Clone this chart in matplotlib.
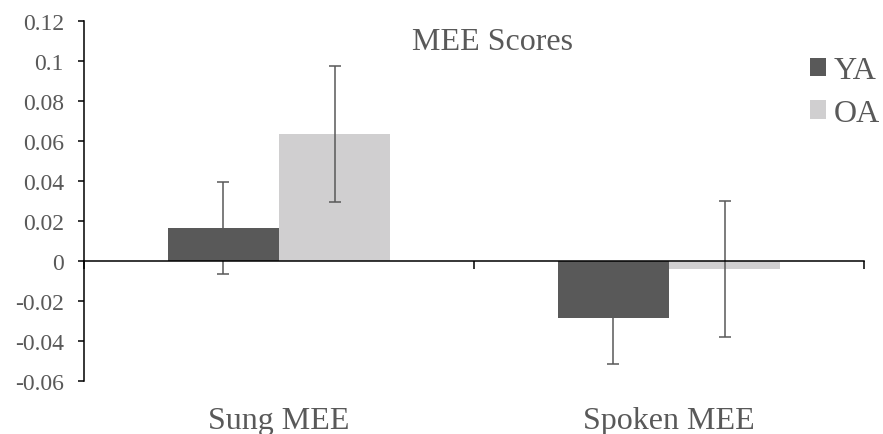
import matplotlib
matplotlib.use("Agg")
import matplotlib.pyplot as plt
import numpy as np
from matplotlib.ticker import FuncFormatter, FixedLocator

plt.rcParams['font.family'] = ['Liberation Serif', 'DejaVu Serif']
plt.rcParams['axes.unicode_minus'] = False

categories = ["Sung MEE", "Spoken MEE"]
series_names = ["YA", "OA"]
ya_values = [0.0167, -0.0286]
oa_values = [0.0637, -0.0042]
ya_err = [0.023, 0.023]
oa_err = [0.034, 0.034]
title = "MEE Scores"

TXT = "#595959"
YA_COL = "#595959"
OA_COL = "#d0cfd0"
ERR_COL = "#595959"

W, H = 883, 435
fig = plt.figure(figsize=(W / 100, H / 100), dpi=100)
ax = fig.add_axes([84 / W, 1 - 382 / H, (864 - 84) / W, (382 - 22) / H])

x = np.arange(len(categories))
bw = 0.285
err_kw = dict(ecolor=ERR_COL, elinewidth=1.1, capsize=4.3, capthick=1.1)
ax.bar(x - bw / 2, ya_values, bw, color=YA_COL, yerr=ya_err, error_kw=err_kw,
       label=series_names[0], zorder=2)
ax.bar(x + bw / 2, oa_values, bw, color=OA_COL, yerr=oa_err, error_kw=err_kw,
       label=series_names[1], zorder=2)

ax.set_xlim(-0.5, len(categories) - 0.5)
ax.set_ylim(-0.06, 0.12)
ax.yaxis.set_major_locator(FixedLocator(np.round(np.arange(-0.06, 0.1201, 0.02), 2)))
ax.yaxis.set_major_formatter(FuncFormatter(lambda v, p: "%g" % round(v, 2)))

for s in ["top", "right", "bottom"]:
    ax.spines[s].set_visible(False)
ax.spines["left"].set_linewidth(1.1)
ax.spines["left"].set_color("black")
ax.tick_params(axis="y", direction="out", length=4.5, width=1.1, color="black",
               labelsize=17, labelcolor=TXT, pad=10)

# category labels
ax.set_xticks(x)
ax.set_xticklabels(categories)
ax.tick_params(axis="x", length=0, labelsize=23, labelcolor=TXT, pad=18)

# zero line with category boundary ticks
sec = ax.secondary_xaxis(0.06 / 0.18)
sec.spines["bottom"].set_linewidth(1.1)
sec.spines["bottom"].set_color("black")
sec.set_xticks(np.arange(-0.5, len(categories), 1.0))
sec.set_xticklabels([])
sec.tick_params(axis="x", direction="out", length=5.5, width=1.1, color="black")
sec.set_zorder(3)

fig.text(493 / W, 1 - 43 / H, title, ha="center", va="center", fontsize=23, color=TXT)

leg = fig.legend(loc="upper left", bbox_to_anchor=(810 / W, 1 - 57 / H),
                 frameon=False, fontsize=23, labelcolor=TXT,
                 handlelength=0.5, handleheight=0.5, handletextpad=0.25,
                 labelspacing=0.43, borderaxespad=0, borderpad=0)

fig.savefig("out.png", dpi=100)
